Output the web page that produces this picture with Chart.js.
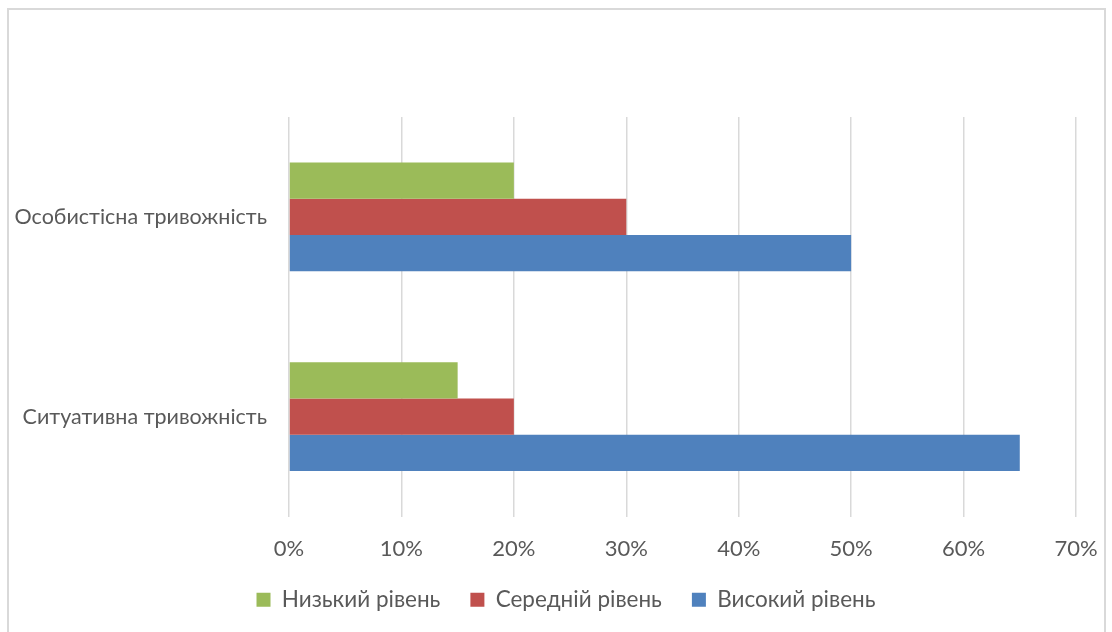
<!DOCTYPE html>
<html>
<head>
<meta charset="utf-8">
<script src="https://cdn.jsdelivr.net/npm/chart.js@4"></script>
<style>
  body { margin: 0; background: #fff; overflow: hidden; }
  #wrap { width: 1112px; height: 632px; overflow: hidden; }
</style>
</head>
<body>
<div id="wrap"><canvas id="anxietyChart" width="1112" height="680"></canvas></div>
<script>
// Рівні тривожності, частка у відсотках
const categories = ['Особистісна тривожність', 'Ситуативна тривожність'];
const lowLevel = [20, 15];
const midLevel = [30, 20];
const highLevel = [50, 65];
const xTicks = [0, 10, 20, 30, 40, 50, 60, 70];

const textColor = '#595959';
const fontFamily = 'Lato, "Open Sans", sans-serif';

// light frame around the whole chart
const framePlugin = {
    id: 'frame',
    beforeDraw(chart) {
        const c = chart.ctx;
        c.save();
        c.strokeStyle = '#d9d9d9';
        c.lineWidth = 2;
        c.strokeRect(8, 9, 1097, 700);
        c.restore();
    }
};

// nudge the legend row a bit to the right
const legendShift = {
    id: 'legendShift',
    afterLayout(chart) {
        if (chart.legend) {
            chart.legend.left += 28;
            chart.legend.right += 28;
        }
    }
};

const ctx = document.getElementById('anxietyChart').getContext('2d');
const anxietyChart = new Chart(ctx, {
    type: 'bar',
    data: {
        labels: categories,
        datasets: [
            { label: 'Низький рівень', data: lowLevel, backgroundColor: '#9bbb59' },
            { label: 'Середній рівень', data: midLevel, backgroundColor: '#c0504d' },
            { label: 'Високий рівень', data: highLevel, backgroundColor: '#4f81bd' }
        ]
    },
    options: {
        indexAxis: 'y',
        responsive: false,
        animation: false,
        categoryPercentage: 0.545,
        barPercentage: 1.0,
        layout: { padding: { top: 117, right: 36, bottom: 59, left: 0 } },
        scales: {
            x: {
                min: 0,
                max: 70,
                afterBuildTicks: (scale) => { scale.ticks = xTicks.map(v => ({ value: v })); },
                afterFit: (scale) => {
                    scale.height = 42;
                    scale.paddingRight = 0;
                },
                grid: { color: '#d9d9d9', lineWidth: 1.5, drawTicks: false },
                border: { display: false },
                ticks: {
                    padding: 19,
                    color: textColor,
                    font: { family: fontFamily, size: 22 },
                    callback: (v) => v + '%'
                }
            },
            y: {
                afterFit: (scale) => { scale.width = 289; },
                grid: { display: false, drawTicks: false },
                border: { display: false },
                ticks: {
                    padding: 22,
                    color: textColor,
                    font: { family: fontFamily, size: 21.5 }
                }
            }
        },
        plugins: {
            legend: {
                position: 'bottom',
                labels: {
                    color: textColor,
                    font: { family: fontFamily, size: 22.5 },
                    boxWidth: 14,
                    boxHeight: 14,
                    padding: 30
                }
            },
            tooltip: { enabled: false }
        }
    },
    plugins: [framePlugin, legendShift]
});
</script>
</body>
</html>
